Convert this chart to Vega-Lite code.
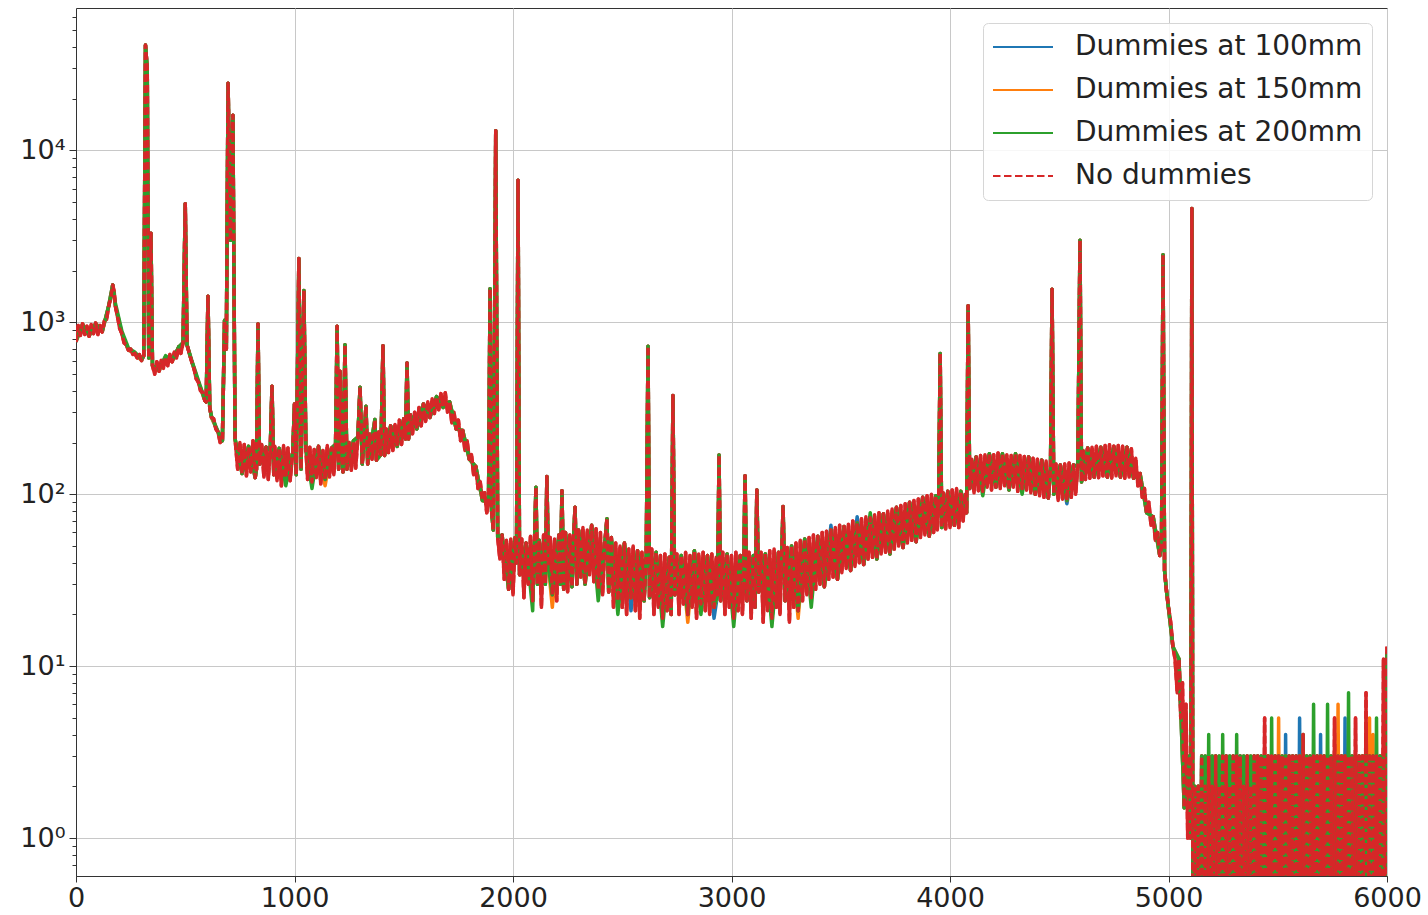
{
"$schema":"https://vega.github.io/schema/vega-lite/v6.json",
"width":1311,"height":868,
"autosize":{"type":"none"},
"padding":{"left":76,"top":8,"right":41,"bottom":39},
"background":"white",
"config":{"font":"DejaVu Sans","view":{"stroke":"#333333","strokeWidth":1}},
"data":{"values":[
{"x":0,"a":770,"b":770,"c":780,"d":770},{"x":10,"d":960},{"x":20,"d":840},
{"x":30,"a":980,"b":980,"c":970,"d":980},{"x":40,"d":850},{"x":50,"d":950},
{"x":60,"a":830,"b":830,"c":840,"d":830},{"x":70,"d":970},{"x":80,"d":860},
{"x":90,"a":990,"b":990,"c":980,"d":990},{"x":100,"d":850},{"x":110,"d":960},
{"x":120,"a":880,"b":880,"c":890,"d":880},{"x":130,"d":1020},{"x":140,"d":1040},
{"x":150,"a":1250,"b":1250,"c":1260,"d":1250},{"x":160,"d":1400},
{"x":168,"a":1650,"b":1650,"c":1650,"d":1650},{"x":175,"d":1500},
{"x":180,"a":1250,"b":1250,"c":1300,"d":1250},{"x":190,"d":1080},{"x":200,"d":920},
{"x":210,"a":860,"b":860,"c":890,"d":860},{"x":220,"d":760},{"x":230,"d":740},
{"x":240,"a":690,"b":690,"c":710,"d":690},{"x":250,"d":700},{"x":260,"d":650},
{"x":270,"a":660,"b":660,"c":670,"d":660},{"x":280,"d":620},{"x":290,"d":650},
{"x":300,"a":600,"b":600,"c":610,"d":600},
{"x":310,"a":640,"b":640,"c":640,"d":640},
{"x":318,"a":41000,"b":41000,"c":41000,"d":41000},
{"x":326,"a":30000,"b":30000,"c":30000,"d":30000},
{"x":333,"a":620,"b":620,"c":620,"d":620},
{"x":343,"a":3300,"b":3300,"c":3300,"d":3300},
{"x":350,"a":560,"b":560,"c":560,"d":560},{"x":360,"d":500},{"x":370,"d":590},
{"x":380,"a":520,"b":520,"c":530,"d":520},{"x":390,"d":600},{"x":400,"d":540},
{"x":410,"a":630,"b":630,"c":640,"d":630},{"x":420,"d":560},{"x":430,"d":650},
{"x":440,"a":590,"b":590,"c":600,"d":590},{"x":450,"d":670},{"x":460,"d":620},
{"x":470,"a":720,"b":720,"c":720,"d":720},{"x":480,"d":660},
{"x":490,"a":760,"b":760,"c":760,"d":760},
{"x":500,"a":4900,"b":4900,"c":4900,"d":4900},
{"x":508,"a":740,"b":740,"c":740,"d":740},{"x":520,"d":650},
{"x":530,"a":590,"b":590,"c":600,"d":590},{"x":540,"d":540},{"x":550,"d":470},
{"x":560,"a":450,"b":450,"c":460,"d":450},{"x":570,"d":400},{"x":580,"d":390},
{"x":590,"a":350,"b":350,"c":355,"d":350},
{"x":596,"a":345,"b":345,"c":345,"d":345},
{"x":604,"a":1420,"b":1420,"c":1420,"d":1420},
{"x":612,"a":320,"b":320,"c":320,"d":320},
{"x":620,"a":280,"b":280,"c":285,"d":280},{"x":630,"d":275},{"x":640,"d":240},
{"x":650,"a":230,"b":230,"c":232,"d":230},{"x":660,"d":200},
{"x":670,"a":205,"b":205,"c":205,"d":205},
{"x":680,"a":1030,"b":1030,"c":1030,"d":1030},
{"x":688,"a":700,"b":700,"c":700,"d":700},
{"x":696,"a":24600,"b":24600,"c":24600,"d":24600},
{"x":707,"a":3000,"b":3000,"c":3000,"d":3000},
{"x":718,"a":16000,"b":16000,"c":16000,"d":16000},
{"x":728,"a":210,"b":210,"c":210,"d":210},{"x":740,"d":140},{"x":750,"d":200},
{"x":760,"a":132,"b":132,"c":132,"d":132},{"x":770,"d":195},{"x":780,"d":128},
{"x":790,"a":190,"b":190,"c":190,"d":190},{"x":800,"d":135},{"x":810,"d":205},
{"x":820,"a":125,"b":125,"c":125,"d":125},
{"x":826,"a":140,"b":140,"c":140,"d":140},
{"x":833,"a":980,"b":980,"c":980,"d":980},
{"x":840,"a":150,"b":150,"c":150,"d":150},{"x":850,"d":195},{"x":860,"d":126},
{"x":870,"a":188,"b":188,"c":188,"d":188},{"x":880,"d":122},
{"x":889,"a":180,"b":180,"c":180,"d":180},
{"x":897,"a":425,"b":425,"c":425,"d":425},
{"x":905,"a":130,"b":130,"c":130,"d":130},{"x":910,"d":190},{"x":920,"d":120},
{"x":930,"a":185,"b":185,"c":185,"d":185},{"x":940,"d":112},{"x":950,"d":192},
{"x":960,"a":124,"b":124,"c":112,"d":124},{"x":970,"d":186},{"x":980,"d":120},
{"x":992,"a":175,"b":175,"c":175,"d":175},
{"x":1000,"a":335,"b":335,"c":335,"d":335},
{"x":1008,"a":130,"b":130,"c":130,"d":130},
{"x":1020,"a":2350,"b":2350,"c":2350,"d":2350},
{"x":1030,"a":140,"b":140,"c":140,"d":140},
{"x":1043,"a":1530,"b":1530,"c":1530,"d":1530},
{"x":1052,"a":185,"b":185,"c":185,"d":185},{"x":1060,"d":122},{"x":1070,"d":188},
{"x":1080,"a":118,"b":118,"c":108,"d":118},{"x":1090,"d":182},{"x":1100,"d":125},
{"x":1110,"a":190,"b":190,"c":190,"d":190},{"x":1120,"d":115},{"x":1130,"d":180},
{"x":1140,"a":122,"b":112,"c":122,"d":122},{"x":1150,"d":192},{"x":1160,"d":126},
{"x":1170,"a":186,"b":186,"c":186,"d":186},{"x":1180,"d":130},
{"x":1188,"a":195,"b":195,"c":195,"d":195},
{"x":1195,"a":950,"b":950,"c":950,"d":950},
{"x":1202,"a":140,"b":140,"c":140,"d":140},
{"x":1208,"a":520,"b":520,"c":520,"d":520},
{"x":1215,"a":190,"b":190,"c":190,"d":190},
{"x":1222,"a":135,"b":135,"c":135,"d":135},
{"x":1231,"a":740,"b":740,"c":740,"d":740},
{"x":1240,"a":140,"b":140,"c":140,"d":140},{"x":1250,"d":200},{"x":1260,"d":138},
{"x":1270,"a":205,"b":205,"c":205,"d":205},{"x":1280,"d":142},
{"x":1290,"a":215,"b":215,"c":215,"d":215},
{"x":1300,"a":420,"b":420,"c":420,"d":420},
{"x":1310,"a":150,"b":150,"c":150,"d":150},
{"x":1318,"a":210,"b":210,"c":210,"d":210},
{"x":1327,"a":325,"b":325,"c":325,"d":325},
{"x":1335,"a":150,"b":150,"c":150,"d":150},{"x":1345,"d":225},{"x":1355,"d":160},
{"x":1368,"a":272,"b":272,"c":272,"d":272},
{"x":1375,"a":158,"b":158,"c":158,"d":158},{"x":1385,"d":230},
{"x":1395,"a":170,"b":170,"c":170,"d":170},
{"x":1405,"a":730,"b":730,"c":730,"d":730},
{"x":1412,"a":168,"b":168,"c":168,"d":168},{"x":1420,"d":240},{"x":1430,"d":175},
{"x":1440,"a":250,"b":250,"c":250,"d":250},{"x":1450,"d":180},{"x":1460,"d":255},
{"x":1470,"a":190,"b":190,"c":190,"d":190},{"x":1480,"d":270},{"x":1490,"d":195},
{"x":1500,"a":275,"b":275,"c":275,"d":275},
{"x":1508,"a":210,"b":210,"c":210,"d":210},
{"x":1515,"a":580,"b":580,"c":580,"d":580},
{"x":1522,"a":210,"b":210,"c":210,"d":210},
{"x":1530,"a":290,"b":290,"c":290,"d":290},{"x":1540,"d":225},{"x":1550,"d":300},
{"x":1560,"a":240,"b":240,"c":240,"d":240},{"x":1570,"d":320},{"x":1580,"d":250},
{"x":1590,"a":335,"b":335,"c":335,"d":335},{"x":1600,"d":265},{"x":1610,"d":345},
{"x":1620,"a":280,"b":280,"c":280,"d":280},{"x":1630,"d":360},{"x":1640,"d":295},
{"x":1650,"a":370,"b":370,"c":370,"d":370},{"x":1660,"d":310},{"x":1670,"d":385},
{"x":1680,"a":320,"b":320,"c":320,"d":320},{"x":1690,"d":390},{"x":1700,"d":300},
{"x":1710,"a":345,"b":345,"c":345,"d":345},{"x":1720,"d":260},{"x":1730,"d":300},
{"x":1740,"a":240,"b":240,"c":240,"d":240},{"x":1750,"d":270},{"x":1760,"d":205},
{"x":1770,"a":235,"b":235,"c":235,"d":235},{"x":1780,"d":180},{"x":1790,"d":205},
{"x":1800,"a":160,"b":160,"c":160,"d":160},{"x":1810,"d":170},{"x":1820,"d":130},
{"x":1830,"a":145,"b":145,"c":145,"d":145},{"x":1840,"d":108},{"x":1850,"d":118},
{"x":1860,"a":92,"b":92,"c":92,"d":92},{"x":1870,"d":102},{"x":1880,"d":78},
{"x":1888,"a":90,"b":90,"c":90,"d":90},
{"x":1895,"a":1570,"b":1570,"c":1570,"d":1570},
{"x":1902,"a":80,"b":80,"c":80,"d":80},
{"x":1910,"a":62,"b":62,"c":62,"d":62},
{"x":1921,"a":13000,"b":13000,"c":13000,"d":13000},
{"x":1930,"a":56,"b":56,"c":56,"d":56},{"x":1940,"d":42},
{"x":1950,"a":58,"b":58,"c":58,"d":58},{"x":1960,"d":32},{"x":1970,"d":54},
{"x":1980,"a":28,"b":28,"c":28,"d":28},{"x":1990,"d":55},{"x":2000,"d":26},
{"x":2010,"a":56,"b":56,"c":56,"d":56},
{"x":2016,"a":40,"b":40,"c":40,"d":40},
{"x":2023,"a":6700,"b":6700,"c":6700,"d":6700},
{"x":2030,"a":34,"b":34,"c":34,"d":34},{"x":2040,"d":55},{"x":2050,"d":25},
{"x":2060,"a":52,"b":52,"c":52,"d":52},{"x":2070,"d":30},{"x":2080,"d":57},
{"x":2090,"a":24,"b":24,"c":21,"d":24},
{"x":2098,"a":50,"b":50,"c":50,"d":50},
{"x":2105,"a":110,"b":110,"c":110,"d":110},
{"x":2112,"a":30,"b":30,"c":30,"d":30},
{"x":2120,"a":54,"b":54,"c":54,"d":54},{"x":2130,"d":22},{"x":2140,"d":58},
{"x":2148,"a":30,"b":30,"c":30,"d":30},
{"x":2155,"a":127,"b":127,"c":127,"d":127},
{"x":2162,"a":38,"b":38,"c":38,"d":38},{"x":2170,"d":56},
{"x":2180,"a":26,"b":22,"c":26,"d":26},{"x":2190,"d":55},{"x":2200,"d":24},
{"x":2210,"a":58,"b":58,"c":58,"d":58},
{"x":2217,"a":30,"b":30,"c":30,"d":30},
{"x":2224,"a":105,"b":105,"c":105,"d":105},
{"x":2232,"a":28,"b":28,"c":28,"d":28},
{"x":2240,"a":60,"b":60,"c":60,"d":60},{"x":2250,"d":27},{"x":2260,"d":58},
{"x":2270,"a":29,"b":29,"c":29,"d":29},
{"x":2277,"a":55,"b":55,"c":55,"d":55},
{"x":2284,"a":84,"b":84,"c":84,"d":84},
{"x":2292,"a":30,"b":30,"c":30,"d":30},
{"x":2300,"a":62,"b":62,"c":62,"d":62},{"x":2310,"d":33},{"x":2320,"d":64},
{"x":2330,"a":30,"b":30,"c":30,"d":30},{"x":2340,"d":62},{"x":2350,"d":34},
{"x":2360,"a":66,"b":66,"c":66,"d":66},{"x":2370,"d":31},{"x":2380,"d":63},
{"x":2390,"a":28,"b":28,"c":24,"d":28},{"x":2400,"d":60},{"x":2410,"d":26},
{"x":2422,"a":55,"b":55,"c":55,"d":55},
{"x":2430,"a":72,"b":72,"c":72,"d":72},
{"x":2438,"a":27,"b":27,"c":27,"d":27},
{"x":2450,"a":56,"b":56,"c":56,"d":56},{"x":2460,"d":22},{"x":2470,"d":52},
{"x":2480,"a":24,"b":24,"c":20,"d":24},{"x":2490,"d":50},{"x":2500,"d":22},
{"x":2510,"a":52,"b":52,"c":52,"d":52},{"x":2520,"d":20},{"x":2530,"d":48},
{"x":2540,"a":21,"b":25,"c":25,"d":25},{"x":2550,"d":50},{"x":2560,"d":21},
{"x":2570,"a":47,"b":47,"c":47,"d":47},{"x":2580,"d":19},{"x":2590,"d":46},
{"x":2600,"a":24,"b":24,"c":24,"d":24},
{"x":2610,"a":45,"b":45,"c":45,"d":45},
{"x":2618,"a":727,"b":727,"c":727,"d":727},
{"x":2625,"a":25,"b":25,"c":25,"d":25},{"x":2635,"d":48},{"x":2645,"d":20},
{"x":2655,"a":46,"b":46,"c":46,"d":46},{"x":2665,"d":22},{"x":2675,"d":44},
{"x":2685,"a":19,"b":19,"c":17,"d":19},{"x":2695,"d":45},{"x":2705,"d":21},
{"x":2715,"a":43,"b":43,"c":43,"d":43},
{"x":2724,"a":20,"b":20,"c":20,"d":20},
{"x":2732,"a":375,"b":375,"c":375,"d":375},
{"x":2740,"a":26,"b":26,"c":26,"d":26},{"x":2750,"d":45},{"x":2760,"d":20},
{"x":2770,"a":44,"b":44,"c":44,"d":44},{"x":2780,"d":23},{"x":2790,"d":46},
{"x":2800,"a":20,"b":18,"c":20,"d":20},{"x":2810,"d":44},{"x":2820,"d":22},
{"x":2830,"a":47,"b":47,"c":47,"d":47},{"x":2840,"d":19},{"x":2850,"d":45},
{"x":2860,"a":23,"b":23,"c":20,"d":23},{"x":2870,"d":46},{"x":2880,"d":21},
{"x":2890,"a":44,"b":44,"c":44,"d":44},{"x":2900,"d":20},{"x":2910,"d":45},
{"x":2920,"a":19,"b":22,"c":22,"d":22},{"x":2930,"d":43},
{"x":2936,"a":26,"b":26,"c":26,"d":26},
{"x":2943,"a":169,"b":169,"c":169,"d":169},
{"x":2950,"a":24,"b":24,"c":24,"d":24},{"x":2960,"d":46},{"x":2970,"d":20},
{"x":2980,"a":45,"b":45,"c":45,"d":45},{"x":2990,"d":22},{"x":3000,"d":44},
{"x":3010,"a":19,"b":19,"c":17,"d":19},{"x":3020,"d":46},{"x":3030,"d":21},
{"x":3040,"a":44,"b":44,"c":44,"d":44},{"x":3050,"d":20},
{"x":3055,"a":30,"b":30,"c":30,"d":30},
{"x":3062,"a":128,"b":128,"c":128,"d":128},
{"x":3070,"a":24,"b":24,"c":24,"d":24},{"x":3080,"d":46},{"x":3090,"d":19},
{"x":3100,"a":44,"b":44,"c":44,"d":44},
{"x":3108,"a":22,"b":22,"c":22,"d":22},
{"x":3116,"a":106,"b":106,"c":106,"d":106},
{"x":3124,"a":27,"b":27,"c":27,"d":27},{"x":3135,"d":46},{"x":3145,"d":18},
{"x":3155,"a":45,"b":45,"c":45,"d":45},{"x":3165,"d":21},{"x":3175,"d":47},
{"x":3185,"a":19,"b":19,"c":17,"d":19},{"x":3195,"d":48},{"x":3205,"d":22},
{"x":3215,"a":46,"b":46,"c":46,"d":46},{"x":3222,"d":20},
{"x":3229,"a":40,"b":40,"c":40,"d":40},
{"x":3236,"a":85,"b":85,"c":85,"d":85},
{"x":3245,"a":24,"b":24,"c":24,"d":24},{"x":3255,"d":49},{"x":3265,"d":18},
{"x":3275,"a":50,"b":50,"c":50,"d":50},{"x":3285,"d":22},{"x":3295,"d":52},
{"x":3305,"a":21,"b":19,"c":21,"d":21},{"x":3315,"d":54},{"x":3325,"d":24},
{"x":3335,"a":55,"b":55,"c":55,"d":55},{"x":3345,"d":26},{"x":3355,"d":56},
{"x":3365,"a":25,"b":25,"c":22,"d":25},{"x":3375,"d":58},{"x":3385,"d":28},
{"x":3395,"a":57,"b":57,"c":57,"d":57},{"x":3405,"d":30},{"x":3415,"d":60},
{"x":3425,"a":29,"b":29,"c":29,"d":29},{"x":3435,"d":61},{"x":3445,"d":32},
{"x":3455,"a":66,"b":62,"c":62,"d":62},{"x":3465,"d":33},{"x":3475,"d":64},
{"x":3485,"a":32,"b":32,"c":32,"d":32},{"x":3495,"d":66},{"x":3505,"d":35},
{"x":3515,"a":65,"b":65,"c":65,"d":65},{"x":3525,"d":37},{"x":3535,"d":67},
{"x":3545,"a":36,"b":36,"c":36,"d":36},{"x":3555,"d":70},{"x":3565,"d":38},
{"x":3575,"a":74,"b":68,"c":68,"d":68},{"x":3585,"d":40},{"x":3595,"d":72},
{"x":3605,"a":39,"b":39,"c":39,"d":39},{"x":3615,"d":74},{"x":3625,"d":42},
{"x":3635,"a":73,"b":73,"c":78,"d":73},{"x":3645,"d":43},{"x":3655,"d":76},
{"x":3665,"a":42,"b":42,"c":42,"d":42},{"x":3675,"d":78},{"x":3685,"d":45},
{"x":3695,"a":77,"b":77,"c":77,"d":77},{"x":3705,"d":46},{"x":3715,"d":80},
{"x":3725,"a":45,"b":45,"c":45,"d":45},{"x":3735,"d":82},{"x":3745,"d":48},
{"x":3755,"a":84,"b":84,"c":84,"d":84},{"x":3765,"d":50},{"x":3775,"d":86},
{"x":3785,"a":49,"b":49,"c":49,"d":49},{"x":3795,"d":88},{"x":3805,"d":52},
{"x":3815,"a":90,"b":90,"c":90,"d":90},{"x":3825,"d":54},{"x":3835,"d":92},
{"x":3845,"a":53,"b":53,"c":53,"d":53},{"x":3855,"d":94},{"x":3865,"d":56},
{"x":3875,"a":96,"b":96,"c":96,"d":96},{"x":3885,"d":58},{"x":3895,"d":98},
{"x":3905,"a":57,"b":57,"c":57,"d":57},{"x":3915,"d":100},{"x":3925,"d":60},
{"x":3935,"a":98,"b":98,"c":98,"d":98},{"x":3942,"d":62},
{"x":3948,"a":90,"b":90,"c":90,"d":90},
{"x":3955,"a":660,"b":660,"c":660,"d":660},
{"x":3962,"a":64,"b":64,"c":64,"d":64},{"x":3970,"d":102},{"x":3980,"d":63},
{"x":3990,"a":104,"b":104,"c":104,"d":104},{"x":4000,"d":64},{"x":4010,"d":106},
{"x":4020,"a":66,"b":66,"c":66,"d":66},{"x":4030,"d":108},{"x":4040,"d":64},
{"x":4050,"a":104,"b":104,"c":104,"d":104},{"x":4060,"d":70},{"x":4070,"d":100},
{"x":4076,"a":78,"b":78,"c":78,"d":78},
{"x":4083,"a":1250,"b":1250,"c":1250,"d":1250},
{"x":4090,"a":108,"b":108,"c":108,"d":108},{"x":4100,"d":160},{"x":4110,"d":102},
{"x":4120,"a":165,"b":165,"c":165,"d":165},{"x":4130,"d":105},{"x":4140,"d":168},
{"x":4150,"a":104,"b":104,"c":98,"d":104},{"x":4160,"d":170},{"x":4170,"d":110},
{"x":4180,"a":172,"b":172,"c":172,"d":172},{"x":4190,"d":106},{"x":4200,"d":170},
{"x":4210,"a":110,"b":110,"c":110,"d":110},{"x":4220,"d":174},{"x":4230,"d":108},
{"x":4240,"a":172,"b":172,"c":172,"d":172},{"x":4250,"d":112},{"x":4260,"d":170},
{"x":4270,"a":106,"b":106,"c":106,"d":106},{"x":4280,"d":168},{"x":4290,"d":110},
{"x":4300,"a":172,"b":172,"c":172,"d":172},{"x":4310,"d":104},{"x":4320,"d":168},
{"x":4330,"a":108,"b":108,"c":100,"d":108},{"x":4340,"d":166},{"x":4350,"d":106},
{"x":4360,"a":165,"b":165,"c":165,"d":165},{"x":4370,"d":102},{"x":4380,"d":162},
{"x":4390,"a":100,"b":100,"c":100,"d":100},{"x":4400,"d":160},{"x":4410,"d":98},
{"x":4420,"a":158,"b":158,"c":158,"d":158},{"x":4430,"d":96},{"x":4440,"d":156},
{"x":4450,"a":95,"b":95,"c":95,"d":95},
{"x":4460,"a":140,"b":140,"c":140,"d":140},
{"x":4467,"a":1560,"b":1560,"c":1560,"d":1560},
{"x":4475,"a":100,"b":100,"c":100,"d":100},{"x":4485,"d":150},{"x":4495,"d":92},
{"x":4505,"a":148,"b":148,"c":148,"d":148},{"x":4515,"d":94},{"x":4525,"d":150},
{"x":4535,"a":88,"b":92,"c":92,"d":92},{"x":4545,"d":152},{"x":4555,"d":96},
{"x":4565,"a":148,"b":148,"c":148,"d":148},{"x":4575,"d":100},
{"x":4585,"a":145,"b":145,"c":145,"d":145},
{"x":4595,"a":3000,"b":3000,"c":3000,"d":3000},
{"x":4602,"a":118,"b":118,"c":118,"d":118},{"x":4610,"d":180},{"x":4620,"d":122},
{"x":4630,"a":186,"b":186,"c":186,"d":186},{"x":4640,"d":124},{"x":4650,"d":188},
{"x":4660,"a":126,"b":126,"c":126,"d":126},{"x":4670,"d":190},{"x":4680,"d":125},
{"x":4690,"a":188,"b":188,"c":188,"d":188},{"x":4700,"d":128},{"x":4710,"d":192},
{"x":4720,"a":126,"b":126,"c":126,"d":126},{"x":4730,"d":194},{"x":4740,"d":124},
{"x":4750,"a":190,"b":190,"c":190,"d":190},{"x":4760,"d":128},{"x":4770,"d":192},
{"x":4780,"a":126,"b":126,"c":126,"d":126},{"x":4790,"d":190},{"x":4800,"d":124},
{"x":4810,"a":188,"b":188,"c":188,"d":188},{"x":4820,"d":126},{"x":4830,"d":184},
{"x":4840,"a":124,"b":124,"c":124,"d":124},{"x":4850,"d":162},{"x":4860,"d":112},
{"x":4870,"a":132,"b":132,"c":132,"d":132},{"x":4880,"d":96},{"x":4890,"d":108},
{"x":4900,"a":78,"b":78,"c":78,"d":78},{"x":4910,"d":90},{"x":4920,"d":66},
{"x":4930,"a":74,"b":74,"c":74,"d":74},{"x":4940,"d":54},{"x":4950,"d":60},
{"x":4960,"a":44,"b":44,"c":44,"d":44},
{"x":4968,"a":50,"b":50,"c":50,"d":50},
{"x":4975,"a":2470,"b":2470,"c":2470,"d":2470},
{"x":4982,"a":36,"b":36,"c":36,"d":36},
{"x":4990,"a":28,"b":28,"c":28,"d":28},{"x":5000,"d":22},{"x":5010,"d":18},
{"x":5020,"a":13,"b":13,"c":13,"d":13},{"x":5030,"d":11},{"x":5040,"d":7},
{"x":5048,"a":11,"b":11,"c":11,"d":11},{"x":5056,"d":5},{"x":5064,"d":8},
{"x":5072,"a":1.5,"b":1.5,"c":1.5,"d":1.5},{"x":5080,"d":6},{"x":5088,"d":1},
{"x":5096,"a":3,"b":3,"c":3,"d":3},
{"x":5102,"a":1,"b":1,"c":1,"d":1},
{"x":5107,"a":4600,"b":4600,"c":4600,"d":4600},
{"x":5112,"a":0.1,"b":0.1,"c":0.1,"d":0.1},
{"x":5120,"a":2,"b":2,"c":2,"d":2},
{"x":5128,"a":0.1,"b":0.1,"c":0.1,"d":0.1},
{"x":5136,"a":2,"b":2,"c":2,"d":2},
{"x":5144,"a":0.1,"b":0.1,"c":0.1,"d":0.1},
{"x":5152,"a":3,"b":3,"c":3,"d":3},
{"x":5160,"a":0.1,"b":0.1,"c":0.1,"d":0.1},
{"x":5168,"a":3,"b":3,"c":3,"d":2},
{"x":5176,"a":0.1,"b":0.1,"c":0.1,"d":0.1},
{"x":5184,"a":3,"b":3,"c":4,"d":3},
{"x":5192,"a":0.1,"b":0.1,"c":0.1,"d":0.1},
{"x":5200,"a":3,"b":3,"c":3,"d":2},
{"x":5208,"a":0.1,"b":0.1,"c":0.1,"d":0.1},
{"x":5216,"a":3,"b":3,"c":3,"d":3},
{"x":5224,"a":0.1,"b":0.1,"c":0.1,"d":0.1},
{"x":5232,"a":3,"b":3,"c":3,"d":2},
{"x":5240,"a":0.1,"b":0.1,"c":0.1,"d":0.1},
{"x":5248,"a":3,"b":3,"c":4,"d":3},
{"x":5256,"a":0.1,"b":0.1,"c":0.1,"d":0.1},
{"x":5264,"a":3,"b":3,"c":3,"d":3},
{"x":5272,"a":0.1,"b":0.1,"c":0.1,"d":0.1},
{"x":5280,"a":3,"b":3,"c":3,"d":2},
{"x":5288,"a":0.1,"b":0.1,"c":0.1,"d":0.1},
{"x":5296,"a":3,"b":3,"c":3,"d":3},
{"x":5304,"a":0.1,"b":0.1,"c":0.1,"d":0.1},
{"x":5312,"a":3,"b":3,"c":4,"d":3},
{"x":5320,"a":0.1,"b":0.1,"c":0.1,"d":0.1},
{"x":5328,"a":3,"b":3,"c":3,"d":3},
{"x":5336,"a":0.1,"b":0.1,"c":0.1,"d":0.1},
{"x":5344,"a":3,"b":3,"c":3,"d":2},
{"x":5352,"a":0.1,"b":0.1,"c":0.1,"d":0.1},
{"x":5360,"a":3,"b":3,"c":3,"d":3},
{"x":5368,"a":0.1,"b":0.1,"c":0.1,"d":0.1},
{"x":5376,"a":3,"b":3,"c":3,"d":2},
{"x":5384,"a":0.1,"b":0.1,"c":0.1,"d":0.1},
{"x":5392,"a":3,"b":3,"c":3,"d":3},
{"x":5400,"a":0.1,"b":0.1,"c":0.1,"d":0.1},
{"x":5408,"a":3,"b":3,"c":3,"d":3},
{"x":5416,"a":0.1,"b":0.1,"c":0.1,"d":0.1},
{"x":5424,"a":3,"b":3,"c":3,"d":3},
{"x":5432,"a":0.1,"b":0.1,"c":0.1,"d":0.1},
{"x":5440,"a":3,"b":3,"c":3,"d":5},
{"x":5448,"a":0.1,"b":0.1,"c":0.1,"d":0.1},
{"x":5456,"a":3,"b":3,"c":3,"d":3},
{"x":5464,"a":0.1,"b":0.1,"c":0.1,"d":0.1},
{"x":5472,"a":3,"b":3,"c":5,"d":3},
{"x":5480,"a":0.1,"b":0.1,"c":0.1,"d":0.1},
{"x":5488,"a":3,"b":3,"c":3,"d":3},
{"x":5496,"a":0.1,"b":0.1,"c":0.1,"d":0.1},
{"x":5504,"a":3,"b":5,"c":3,"d":3},
{"x":5512,"a":0.1,"b":0.1,"c":0.1,"d":0.1},
{"x":5520,"a":3,"b":3,"c":3,"d":3},
{"x":5528,"a":0.1,"b":0.1,"c":0.1,"d":0.1},
{"x":5536,"a":4,"b":3,"c":3,"d":3},
{"x":5544,"a":0.1,"b":0.1,"c":0.1,"d":0.1},
{"x":5552,"a":3,"b":3,"c":3,"d":3},
{"x":5560,"a":0.1,"b":0.1,"c":0.1,"d":0.1},
{"x":5568,"a":3,"b":3,"c":3,"d":3},
{"x":5576,"a":0.1,"b":0.1,"c":0.1,"d":0.1},
{"x":5584,"a":3,"b":3,"c":3,"d":3},
{"x":5592,"a":0.1,"b":0.1,"c":0.1,"d":0.1},
{"x":5600,"a":5,"b":3,"c":3,"d":3},
{"x":5608,"a":0.1,"b":0.1,"c":0.1,"d":0.1},
{"x":5616,"a":3,"b":3,"c":4,"d":4},
{"x":5624,"a":0.1,"b":0.1,"c":0.1,"d":0.1},
{"x":5632,"a":3,"b":3,"c":3,"d":3},
{"x":5640,"a":0.1,"b":0.1,"c":0.1,"d":0.1},
{"x":5648,"a":3,"b":3,"c":3,"d":3},
{"x":5656,"a":0.1,"b":0.1,"c":0.1,"d":0.1},
{"x":5664,"a":3,"b":3,"c":6,"d":3},
{"x":5672,"a":0.1,"b":0.1,"c":0.1,"d":0.1},
{"x":5680,"a":3,"b":3,"c":3,"d":3},
{"x":5688,"a":0.1,"b":0.1,"c":0.1,"d":0.1},
{"x":5696,"a":4,"b":3,"c":3,"d":3},
{"x":5704,"a":0.1,"b":0.1,"c":0.1,"d":0.1},
{"x":5712,"a":3,"b":3,"c":3,"d":3},
{"x":5720,"a":0.1,"b":0.1,"c":0.1,"d":0.1},
{"x":5728,"a":3,"b":3,"c":6,"d":3},
{"x":5736,"a":0.1,"b":0.1,"c":0.1,"d":0.1},
{"x":5744,"a":3,"b":3,"c":3,"d":3},
{"x":5752,"a":0.1,"b":0.1,"c":0.1,"d":0.1},
{"x":5760,"a":3,"b":3,"c":3,"d":5},
{"x":5768,"a":0.1,"b":0.1,"c":0.1,"d":0.1},
{"x":5776,"a":3,"b":6,"c":3,"d":3},
{"x":5784,"a":0.1,"b":0.1,"c":0.1,"d":0.1},
{"x":5792,"a":3,"b":3,"c":3,"d":3},
{"x":5800,"a":0.1,"b":0.1,"c":0.1,"d":0.1},
{"x":5808,"a":5,"b":3,"c":3,"d":3},
{"x":5816,"a":0.1,"b":0.1,"c":0.1,"d":0.1},
{"x":5824,"a":3,"b":3,"c":7,"d":3},
{"x":5832,"a":0.1,"b":0.1,"c":0.1,"d":0.1},
{"x":5840,"a":3,"b":3,"c":3,"d":3},
{"x":5848,"a":0.1,"b":0.1,"c":0.1,"d":0.1},
{"x":5856,"a":3,"b":3,"c":3,"d":5},
{"x":5864,"a":0.1,"b":0.1,"c":0.1,"d":0.1},
{"x":5872,"a":3,"b":3,"c":3,"d":3},
{"x":5880,"a":0.1,"b":0.1,"c":0.1,"d":0.1},
{"x":5888,"a":3,"b":3,"c":3,"d":3},
{"x":5896,"a":0.1,"b":0.1,"c":0.1,"d":0.1},
{"x":5904,"a":3,"b":3,"c":3,"d":7},
{"x":5912,"a":0.1,"b":0.1,"c":0.1,"d":0.1},
{"x":5920,"a":3,"b":5,"c":3,"d":3},
{"x":5928,"a":0.1,"b":0.1,"c":0.1,"d":0.1},
{"x":5936,"a":3,"b":4,"c":3,"d":3},
{"x":5944,"a":0.1,"b":0.1,"c":0.1,"d":0.1},
{"x":5952,"a":3,"b":3,"c":5,"d":3},
{"x":5960,"a":0.1,"b":0.1,"c":0.1,"d":0.1},
{"x":5968,"a":3,"b":3,"c":3,"d":3},
{"x":5976,"a":0.1,"b":0.1,"c":0.1,"d":0.1},
{"x":5984,"a":3,"b":3,"c":3,"d":11},
{"x":5992,"a":0.1,"b":0.1,"c":0.1,"d":0.1},
{"x":6000,"a":12,"b":12,"c":12,"d":13}
]},
"encoding":{
"x":{"field":"x","type":"quantitative","scale":{"domain":[0,6000],"nice":false,"zero":false},
 "axis":{"title":null,"values":[0,1000,2000,3000,4000,5000,6000],"format":"d","grid":true,"gridColor":"#c8c8c8","gridWidth":1,
  "domainColor":"#333333","tickColor":"#333333","tickSize":6,"labelFontSize":27,"labelColor":"#222222","labelPadding":3,"labelOverlap":false,"labelFlush":false}},
"y":{"field":"v","type":"quantitative","scale":{"type":"log","domain":[0.602,67400],"nice":false,"zero":false},
 "axis":{"title":null,"values":[0.7,0.8,0.9,1,2,3,4,5,6,7,8,9,10,20,30,40,50,60,70,80,90,100,200,300,400,500,600,700,800,900,1000,2000,3000,4000,5000,6000,7000,8000,9000,10000,20000,30000,40000,50000,60000],
  "labelExpr":"datum.value == 1 ? '10⁰' : datum.value == 10 ? '10¹' : datum.value == 100 ? '10²' : datum.value == 1000 ? '10³' : datum.value == 10000 ? '10⁴' : ''",
  "grid":true,"gridColor":"#c8c8c8","gridWidth":1,
  "gridOpacity":{"condition":{"test":"datum.value == 1 || datum.value == 10 || datum.value == 100 || datum.value == 1000 || datum.value == 10000","value":1},"value":0},
  "tickSize":{"condition":{"test":"datum.value == 1 || datum.value == 10 || datum.value == 100 || datum.value == 1000 || datum.value == 10000","value":7},"value":4},
  "domainColor":"#333333","tickColor":"#333333","labelFontSize":27,"labelColor":"#222222","labelPadding":4,"labelOverlap":false,"labelFlush":false}},
"color":{"field":"key","type":"nominal","scale":{"domain":["a","b","c","d"],"range":["#1f77b4","#ff7f0e","#2ca02c","#d62728"]},
 "legend":{"title":null,"orient":"none","legendX":907,"legendY":15,"symbolType":"stroke","symbolSize":3600,"symbolStrokeWidth":2,
  "labelFontSize":28,"labelColor":"#222222","labelOffset":21,"labelLimit":500,"padding":9,"rowPadding":13,"clipHeight":30,
  "fillColor":"rgba(255,255,255,0.85)","strokeColor":"#d6d6d6","cornerRadius":5,
  "labelExpr":"datum.label == 'a' ? 'Dummies at 100mm' : datum.label == 'b' ? 'Dummies at 150mm' : datum.label == 'c' ? 'Dummies at 200mm' : 'No dummies'"}},
"strokeDash":{"field":"key","type":"nominal","scale":{"domain":["a","b","c","d"],"range":[[1,0],[1,0],[1,0],[7.5,3.5]]},
 "legend":{"title":null,"orient":"none","legendX":907,"legendY":15,"symbolType":"stroke","symbolSize":3600,"symbolStrokeWidth":2,
  "labelFontSize":28,"labelColor":"#222222","labelOffset":21,"labelLimit":500,"padding":9,"rowPadding":13,"clipHeight":30,
  "fillColor":"rgba(255,255,255,0.85)","strokeColor":"#d6d6d6","cornerRadius":5,
  "labelExpr":"datum.label == 'a' ? 'Dummies at 100mm' : datum.label == 'b' ? 'Dummies at 150mm' : datum.label == 'c' ? 'Dummies at 200mm' : 'No dummies'"}}
},
"layer":[
{"transform":[{"fold":["a"],"as":["key","v"]}],"mark":{"type":"line","strokeWidth":3.5,"clip":true,"strokeJoin":"round","invalid":"filter"}},
{"transform":[{"fold":["b"],"as":["key","v"]}],"mark":{"type":"line","strokeWidth":3.5,"clip":true,"strokeJoin":"round","invalid":"filter"}},
{"transform":[{"fold":["d"],"as":["key","v"]}],"mark":{"type":"line","strokeWidth":3.5,"clip":true,"strokeJoin":"round","invalid":"filter"},
 "encoding":{"color":{"value":"#d62728"},"strokeDash":{"value":[1,0]}}},
{"transform":[{"fold":["c"],"as":["key","v"]}],"mark":{"type":"line","strokeWidth":3.5,"clip":true,"strokeJoin":"round","invalid":"filter"}},
{"transform":[{"fold":["d"],"as":["key","v"]}],"mark":{"type":"line","strokeWidth":3.5,"clip":true,"strokeJoin":"round","invalid":"filter"}}
]
}
